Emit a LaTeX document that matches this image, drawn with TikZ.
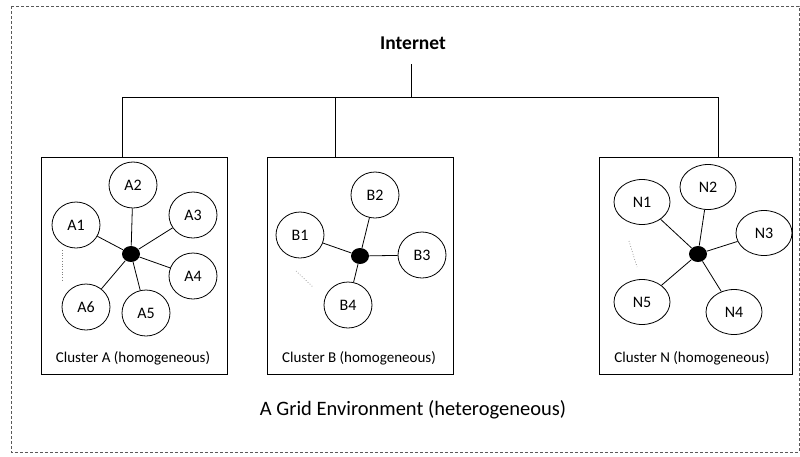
\documentclass[tikz,border=0pt]{standalone}
\usepackage{fontspec}
\setmainfont{Carlito}
\usetikzlibrary{shapes.geometric}

\begin{document}
\begin{tikzpicture}[x=1pt, y=-1pt, line width=0.8pt,
  pc/.style={draw, ellipse, minimum width=48pt, minimum height=46pt, inner sep=0pt, font=\fontsize{16}{18}\selectfont},
  pcwide/.style={pc, minimum width=56pt, minimum height=45pt},
  hub/.style={fill, ellipse, minimum width=18pt, minimum height=16pt, inner sep=0pt},
  cluster/.style={draw, anchor=north west, minimum height=217pt, inner sep=0pt},
  lbl/.style={font=\fontsize{15}{17}\selectfont},
  more/.style={draw=gray, line width=0.7pt, dotted}]
    \useasboundingbox (0,0) rectangle (800,456);
    \draw[gray!70!black, dash pattern=on 3pt off 2pt] (11,6) rectangle (799,452);

    % internet and bus
    \node[font=\bfseries\fontsize{19.5}{22}\selectfont] (inet) at (413,43) {Internet};
    \coordinate (top) at (411,64);
    \coordinate (bus) at (411,97);
    \coordinate (busA) at (122,97);
    \coordinate (busB) at (335,97);
    \coordinate (busN) at (718,97);
    \draw (top) -- (bus);
    \draw (busA) -- (busN);

    % cluster A
    \node[cluster, minimum width=186pt] (ca) at (41,157) {};
    \node[lbl] (la) at (133,358) {Cluster A (homogeneous)};
    \node[hub] (ha) at (131,254) {};
    \node[pc] (a1) at (76,225) {A1};
    \node[pc] (a2) at (133,185) {A2};
    \node[pc] (a3) at (193,215) {A3};
    \node[pc] (a4) at (193,276) {A4};
    \node[pc] (a5) at (146,313) {A5};
    \node[pc] (a6) at (86,307) {A6};
    \foreach \n in {a1,a2,a3,a4,a5,a6}
        \draw (ha) -- (\n);
    \draw[more] (62,250) -- (62,281);

    % cluster B
    \node[cluster, minimum width=186pt] (cb) at (267,157) {};
    \node[lbl] (lb) at (359,358) {Cluster B (homogeneous)};
    \node[hub] (hb) at (360,256) {};
    \node[pc] (b1) at (300,235) {B1};
    \node[pc] (b2) at (375,195) {B2};
    \node[pc] (b3) at (422,255) {B3};
    \node[pc] (b4) at (348,305) {B4};
    \foreach \n in {b1,b2,b3,b4}
        \draw (hb) -- (\n);
    \draw[more] (296,271) -- (313,287);

    % cluster N
    \node[cluster, minimum width=193pt] (cn) at (599,157) {};
    \node[lbl] (ln) at (692,358) {Cluster N (homogeneous)};
    \node[hub] (hn) at (698,254) {};
    \node[pcwide] (n1) at (642,202) {N1};
    \node[pcwide] (n2) at (708,187) {N2};
    \node[pcwide] (n3) at (764,233) {N3};
    \node[pcwide] (n4) at (734,312) {N4};
    \node[pcwide] (n5) at (642,302) {N5};
    \foreach \n in {n1,n2,n3,n4,n5}
        \draw (hn) -- (\n);
    \draw[more] (629,241) -- (637,267);

    % drops to clusters
    \draw (busA) -- (busA |- ca.north);
    \draw (busB) -- (busB |- cb.north);
    \draw (busN) -- (busN |- cn.north);

    \node[font=\fontsize{20.5}{24}\selectfont] (grid) at (413,410) {A Grid Environment (heterogeneous)};
\end{tikzpicture}
\end{document}
